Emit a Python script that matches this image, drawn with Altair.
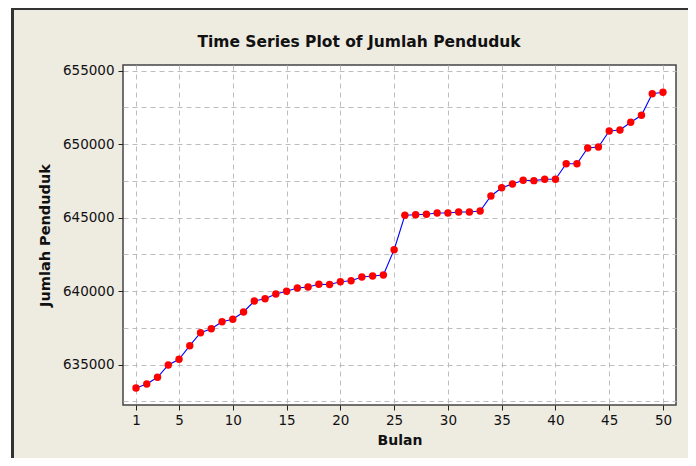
import altair as alt
import pandas as pd

bulan = list(range(1, 51))
penduduk = [
    633414, 633686, 634142, 634979, 635366, 636292, 637176, 637448, 637924, 638087,
    638584, 639333, 639489, 639809, 639992, 640217, 640285, 640469, 640450, 640646,
    640714, 640966, 641034, 641102, 642823, 645163, 645204, 645230, 645319, 645319,
    645387, 645387, 645455, 646476, 647041, 647292, 647544, 647520, 647612, 647612,
    648673, 648673, 649741, 649809, 650898, 650966, 651490, 651966, 653435, 653531,
]
x_ticks = [1, 5, 10, 15, 20, 25, 30, 35, 40, 45, 50]
y_grid = [632500 + 2500 * i for i in range(10)]
title_text = ["Time Series Plot of Jumlah Penduduk"]

df = pd.DataFrame({"Bulan": bulan, "Jumlah Penduduk": penduduk})

W, H = 553, 340
BEIGE = "#EEEBE1"
FONT = "DejaVu Sans"

xs = alt.X(
    "Bulan:Q",
    scale=alt.Scale(domain=[-0.21, 51.21], nice=False, zero=False),
    axis=alt.Axis(
        values=x_ticks, title="Bulan", grid=True, gridDash=[5, 4],
        gridColor="#BDBDBD", gridWidth=1, tickSize=5, tickColor="#222222",
        domain=False, labelFont=FONT, labelFontSize=13.5, labelColor="#111111",
        labelPadding=3, titleFont=FONT, titleFontSize=14, titleFontWeight="bold",
        titleColor="#111111", titlePadding=7, labelFlush=False,
    ),
)
ys = alt.Y(
    "Jumlah Penduduk:Q",
    scale=alt.Scale(domain=[632257, 655388], nice=False, zero=False),
    axis=alt.Axis(
        values=y_grid, format="d", title="Jumlah Penduduk", grid=True,
        gridDash=[5, 4], gridColor="#BDBDBD", gridWidth=1, tickSize=5,
        tickColor="#222222",
        tickOpacity={"condition": {"test": "datum.value % 5000 === 0", "value": 1}, "value": 0},
        labelExpr="datum.value % 5000 === 0 ? datum.label : ''",
        domain=False, labelFont=FONT, labelFontSize=13.5, labelColor="#111111",
        labelPadding=4, titleFont=FONT, titleFontSize=14.5, titleFontWeight="bold",
        titleColor="#111111", titlePadding=10,
    ),
)

base = alt.Chart(df)

# panel frame (white page strip + dark border lines of the beige panel)
strip = base.mark_rect(color="white", clip=False).encode(
    x=alt.value(-115), x2=alt.value(-111), y=alt.value(-57), y2=alt.value(H + 60)
)
vline = base.mark_rule(color="#333333", strokeWidth=2, clip=False).encode(
    x=alt.value(-110.5), y=alt.value(-57), y2=alt.value(H + 60)
)
hline = base.mark_rule(color="#333333", strokeWidth=2, clip=False).encode(
    x=alt.value(-111.5), x2=alt.value(W + 20), y=alt.value(-56)
)

title = alt.Chart(pd.DataFrame({"t": title_text})).mark_text(
    font=FONT, fontSize=15.5, fontWeight="bold", color="#111111",
    align="center", baseline="middle", clip=False,
).encode(x=alt.value(236), y=alt.value(-23), text="t:N")

line = base.mark_line(color="#0000FF", strokeWidth=1.1).encode(x=xs, y=ys)
pts = base.mark_circle(color="#FF0000", opacity=1, size=55).encode(x=xs, y=ys)

chart = (
    alt.layer(strip, vline, hline, title, line, pts)
    .properties(
        width=W, height=H,
        background=BEIGE,
        padding={"left": 115, "top": 57, "right": 12, "bottom": 53},
        autosize=alt.AutoSizeParams(type="none"),
    )
    .configure_view(fill="white", stroke="#444444", strokeWidth=1.5)
)

chart.save("out.html", embed_options={"renderer": "svg", "actions": False})
